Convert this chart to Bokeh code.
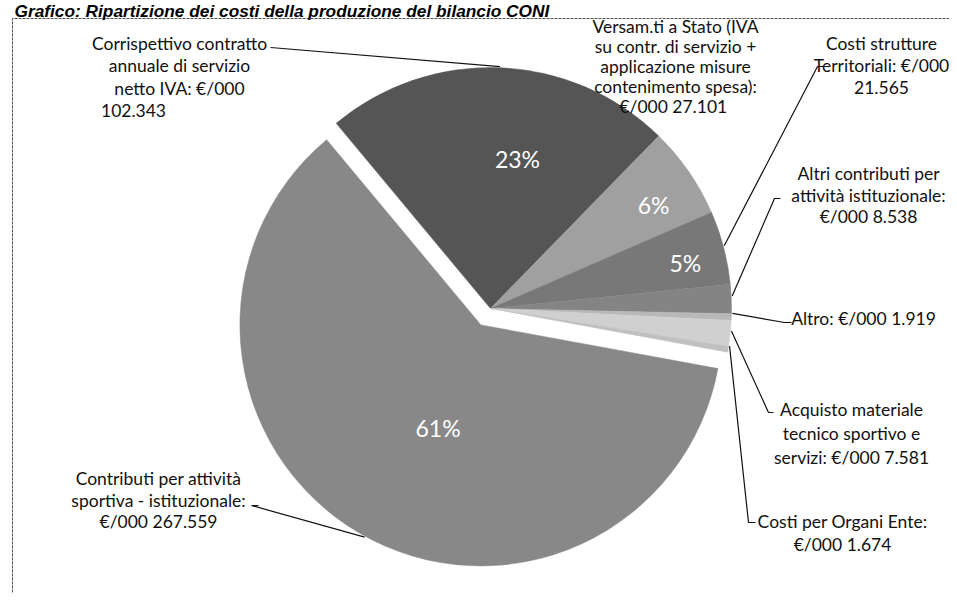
import math
from bokeh.plotting import figure
from bokeh.models import Range1d, ColumnDataSource
from bokeh.core.properties import value
from bokeh.embed import file_html
from bokeh.resources import INLINE

# ---------------- data ----------------
title_text = "Grafico: Ripartizione dei costi della produzione del bilancio CONI"
categories = [
    "Corrispettivo contratto annuale di servizio netto IVA",
    "Versam.ti a Stato (IVA su contr. di servizio + applicazione misure contenimento spesa)",
    "Costi strutture Territoriali",
    "Altri contributi per attività istituzionale",
    "Altro",
    "Acquisto materiale tecnico sportivo e servizi",
    "Costi per Organi Ente",
    "Contributi per attività sportiva - istituzionale",
]
values_k = [102343, 27101, 21565, 8538, 1919, 7581, 1674, 267559]
label_lines = [
    ["Corrispettivo contratto", "annuale di servizio", "netto IVA: €/000", "102.343"],
    ["Versam.ti a Stato (IVA", "su contr. di servizio +", "applicazione misure",
     "contenimento spesa):", "€/000  27.101"],
    ["Costi strutture", "Territoriali: €/000", "21.565"],
    ["Altri contributi per", "attività istituzionale:", "€/000 8.538"],
    ["Altro: €/000 1.919"],
    ["Acquisto materiale", "tecnico sportivo e", "servizi: €/000 7.581"],
    ["Costi per Organi Ente:", "€/000 1.674"],
    ["Contributi per attività", "sportiva - istituzionale:", "€/000 267.559"],
]

# ---------------- styles / layout ----------------
slice_colors = ["#555555", "#a0a0a0", "#787878", "#848484", "#b8b8b8", "#d0d0d0", "#c0c0c0", "#888888"]
explode_px = [0, 0, 0, 0, 0, 0, 0, 19]
START = -39.8            # degrees clockwise from 12 o'clock
W, H = 949, 593

def P(rx, ry):
    """screen-pixel coordinates (from top-left) -> figure data coordinates"""
    return rx, H - ry

CX, CY = P(490, 308)
R = 241
# percentage label placement: (radius px, angle shift deg) ; None = no label
pct_place = [(152, 8.0), (193, 2.3), (200, 1.6), None, None, None, None, (112, -7.8)]
# label text anchors (px): centre x, first line middle y, line step, per-line x shift
label_anchor = [
    (179, 43, 22.3, [0, 0, 0, -46]),
    (675, 25.5, 20.0, None),
    (881, 43, 22.0, None),
    (868, 173, 21.5, None),
    (863, 318, 22.0, None),
    (851, 409, 24.0, None),
    (842, 521, 23.0, None),
    (158, 478, 21.5, None),
]
# leader paths from label side (px); the pie end is computed from the slice angle
leader_label_side = [
    [(270, 47)],
    None,
    [(823, 66), (817, 66)],
    [(780, 198), (774, 198)],
    [(791, 322), (784, 322)],
    [(773, 412), (768, 412)],
    [(755, 522), (748, 522)],
    [(258, 505), (251, 505)],
]
leader_angle_shift = [0, 0, -0.4, -0.7, -0.9, -0.6, -0.8, -1.6]

total = float(sum(values_k))
p = figure(width=W, height=H, x_range=Range1d(0, W), y_range=Range1d(0, H),
           output_backend="svg", toolbar_location=None, min_border=0)
p.axis.visible = False
p.grid.visible = False
p.outline_line_color = None
p.background_fill_color = "white"
p.border_fill_color = "white"

# wedges
xs, ys, sa, ea, mids, centers = [], [], [], [], [], []
t = START
for v, ex in zip(values_k, explode_px):
    span = v / total * 360.0
    t0, t1 = t, t + span
    m = (t0 + t1) / 2
    cx = CX + ex * math.sin(math.radians(m))
    cy = CY + ex * math.cos(math.radians(m))
    xs.append(cx); ys.append(cy)
    sa.append(math.radians(90 - t1)); ea.append(math.radians(90 - t0))
    mids.append(m); centers.append((cx, cy))
    t = t1

src = ColumnDataSource(dict(x=xs, y=ys, start=sa, end=ea, color=slice_colors, cat=categories))
p.wedge(x="x", y="y", radius=R, start_angle="start", end_angle="end",
        direction="anticlock", fill_color="color", line_color="color", line_width=0.5, source=src)

# percentage labels
px_, py_, pt_ = [], [], []
for i, v in enumerate(values_k):
    if pct_place[i] is None:
        continue
    r, sh = pct_place[i]
    a = math.radians(mids[i] + sh)
    px_.append(centers[i][0] + r * math.sin(a))
    py_.append(centers[i][1] + r * math.cos(a))
    pt_.append(f"{round(v / total * 100)}%")
p.text(x=px_, y=py_, text=pt_, text_color="white", text_font=value("Lato"),
       text_font_size="23px", text_align="center", text_baseline="middle")

# leader lines
lx, ly = [], []
for i in range(len(values_k)):
    side = leader_label_side[i]
    if side is None:
        continue
    a = math.radians(mids[i] + leader_angle_shift[i])
    pe = (centers[i][0] + (R + 1) * math.sin(a), centers[i][1] + (R + 1) * math.cos(a))
    pts = [P(*q) for q in side] + [pe]
    lx.append([q[0] for q in pts]); ly.append([q[1] for q in pts])
p.multi_line(xs=lx, ys=ly, line_color="#111111", line_width=1.2)

# category labels
tx, ty, tt = [], [], []
for i, lines in enumerate(label_lines):
    cxr, y0, dy, shifts = label_anchor[i]
    for j, s in enumerate(lines):
        sx = shifts[j] if shifts else 0
        X, Y = P(cxr + sx, y0 + j * dy)
        tx.append(X); ty.append(Y); tt.append(s)
p.text(x=tx, y=ty, text=tt, text_color="#111111", text_font=value("Lato"),
       text_font_size="17.5px", text_align="center", text_baseline="middle")

# chart-area border (dashed)
bx = [P(12, 600)[0], P(12, 18)[0], P(960, 18)[0]]
by = [P(12, 600)[1], P(12, 18)[1], P(960, 18)[1]]
p.line(x=bx, y=by, line_color="#555555", line_width=1, line_dash="3 1")

# title
tX, tY = P(14, 0.5)
p.text(x=[tX], y=[tY], text=[title_text], text_font=value("Liberation Sans"),
       text_font_style="bold italic", text_font_size="17.3px", text_color="#000000",
       text_align="left", text_baseline="top")

open("out.html", "w").write(file_html(p, INLINE))
